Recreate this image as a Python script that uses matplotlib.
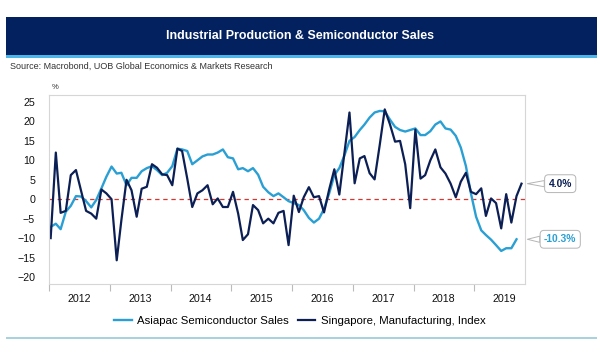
import numpy as np
import pandas as pd
import matplotlib
matplotlib.use('Agg')
import matplotlib.pyplot as plt
import matplotlib.dates as mdates
from matplotlib.patches import Rectangle

plt.rcParams['font.family'] = ['Liberation Sans', 'DejaVu Sans']

# Monthly YoY % change, Jan 2012 onwards
sg_mfg = [-10, 12, -3.5, -3, 6.2, 7.5, 2.3, -3, -3.7, -5, 2.5, 1.5,
          0, -15.7, -5.4, 5, 2.3, -4.5, 2.7, 3.2, 9, 8.1, 6.4, 6.2,
          3.6, 13, 12.4, 5.3, -2, 1.5, 2.3, 3.6, -1.3, 0.2, -2, -2,
          1.9, -3.7, -10.5, -9, -1.5, -2.8, -6.2, -5, -6.2, -3.5, -3, -11.8,
          0.9, -3.3, 0.5, 3.1, 0.5, 0.8, -3.4, 2.5, 7.7, 1.2, 12, 22.3,
          4.1, 10.5, 11.1, 6.7, 5.1, 14, 23.1, 19.3, 14.8, 15.0, 9, -2.3,
          17.9, 5.3, 6.2, 10, 12.8, 8.2, 6.6, 4.0, 0.5, 4.5, 6.8, 1.9,
          1.3, 2.8, -4.3, 0.2, -1.0, -7.5, 1.3, -6.0, 0.8, 4.0]

semi_sales = [-7.1, -6.3, -7.7, -3.2, -1.7, 0.8, 0.7, -0.5, -2.1, -0.2, 2.8, 5.8,
              8.4, 6.6, 6.8, 3.6, 5.5, 5.5, 7.2, 8.0, 8.5, 7.5, 6.2, 6.8,
              8.5, 13, 12.8, 12.4, 9, 10, 11, 11.5, 11.5, 12, 12.8, 10.8,
              10.5, 7.7, 8, 7.2, 8, 6.3, 3.2, 1.8, 0.8, 1.5, 0.5, -0.5,
              -1, -1.5, -2.8, -4.8, -6.0, -5.0, -2.5, 1.5, 6.2, 8.0, 11.3, 15.0,
              16.0, 17.8, 19.2, 21.0, 22.3, 22.7, 22.6, 20.5, 18.6, 17.8, 17.4, 17.8,
              18.2, 16.5, 16.5, 17.5, 19.2, 20.0, 18.2, 17.9, 16.3, 13.3, 8.5, 1.5,
              -4.5, -8, -9.2, -10.4, -11.8, -13.3, -12.6, -12.6, -10.3]

years = list(range(2012, 2020))
yticks = list(range(-20, 30, 5))

CYAN = '#2a9fd4'
NAVY = '#0c1f55'

dates_sg = pd.date_range('2012-01-01', periods=len(sg_mfg), freq='MS') + pd.Timedelta(days=10)
dates_semi = pd.date_range('2012-01-01', periods=len(semi_sales), freq='MS') + pd.Timedelta(days=10)

fig = plt.figure(figsize=(6, 3.6), dpi=100)

# header banner
fig.patches.append(Rectangle((0.01, 1 - 55/360), 0.985, 38/360, transform=fig.transFigure,
                             facecolor='#03215f', edgecolor='none'))
fig.patches.append(Rectangle((0.01, 1 - 57.5/360), 0.985, 2.5/360, transform=fig.transFigure,
                             facecolor='#4db6e4', edgecolor='none'))
fig.text(0.5, 1 - 36/360, 'Industrial Production & Semiconductor Sales', color='white',
         fontsize=8.9, fontweight='bold', ha='center', va='center')
fig.text(0.017, 1 - 66/360, 'Source: Macrobond, UOB Global Economics & Markets Research',
         color='#333333', fontsize=6.5, ha='left', va='center')
# bottom rule
fig.patches.append(Rectangle((0.01, 1 - 338.5/360), 0.985, 2/360, transform=fig.transFigure,
                             facecolor='#a8d2de', edgecolor='none'))

ax = fig.add_axes([49/600, 1 - 284/360, 476/600, 189/360])
ax.plot(dates_semi, semi_sales, color=CYAN, lw=1.7, label='Asiapac Semiconductor Sales')
ax.plot(dates_sg, sg_mfg, color=NAVY, lw=1.6, label='Singapore, Manufacturing, Index')
ax.axhline(0, color='#d6342c', lw=0.9, ls=(0, (3.5, 3)), zorder=1)

ax.set_ylim(-21.8, 26.8)
ax.set_yticks(yticks)
ax.set_xlim(pd.Timestamp('2012-01-01'), pd.Timestamp('2019-11-01'))

ax.xaxis.set_major_locator(mdates.YearLocator())
ax.xaxis.set_major_formatter(plt.NullFormatter())
ax.xaxis.set_minor_locator(mdates.MonthLocator(bymonth=7))
ax.xaxis.set_minor_formatter(mdates.DateFormatter('%Y'))
ax.tick_params(axis='x', which='major', length=5, color='#bbbbbb', direction='out')
ax.tick_params(axis='x', which='minor', length=0, pad=7, labelsize=7.7, labelcolor='#111111')
ax.tick_params(axis='y', length=0, pad=10, labelsize=7.7, labelcolor='#111111')
for s in ax.spines.values():
    s.set_color('#d6d6d6')
    s.set_linewidth(0.8)

ax.text(0.005, 1.02, '%', transform=ax.transAxes, fontsize=5.5, color='#333333',
        ha='left', va='bottom')

# end-value callouts
for val, txt, col in [(sg_mfg[-1], '4.0%', NAVY), (semi_sales[-1], '-10.3%', CYAN)]:
    ax.annotate(txt, xy=(1.005, val), xycoords=('axes fraction', 'data'),
                xytext=(1.074, val), textcoords=('axes fraction', 'data'),
                ha='center', va='center', fontsize=7.4, fontweight='bold', color=col,
                bbox=dict(boxstyle='round,pad=0.38', fc='white', ec='#b5b5b5', lw=0.7),
                arrowprops=dict(arrowstyle='wedge,tail_width=0.6', fc='white', ec='#b5b5b5',
                                lw=0.7, shrinkA=0, shrinkB=0),
                annotation_clip=False)

fig.legend(loc='center', bbox_to_anchor=(0.5, 1 - 321/360), ncol=2, frameon=False,
           fontsize=8.2, handlelength=1.5, handletextpad=0.5, columnspacing=0.8)

fig.savefig('out.png', dpi=100)
